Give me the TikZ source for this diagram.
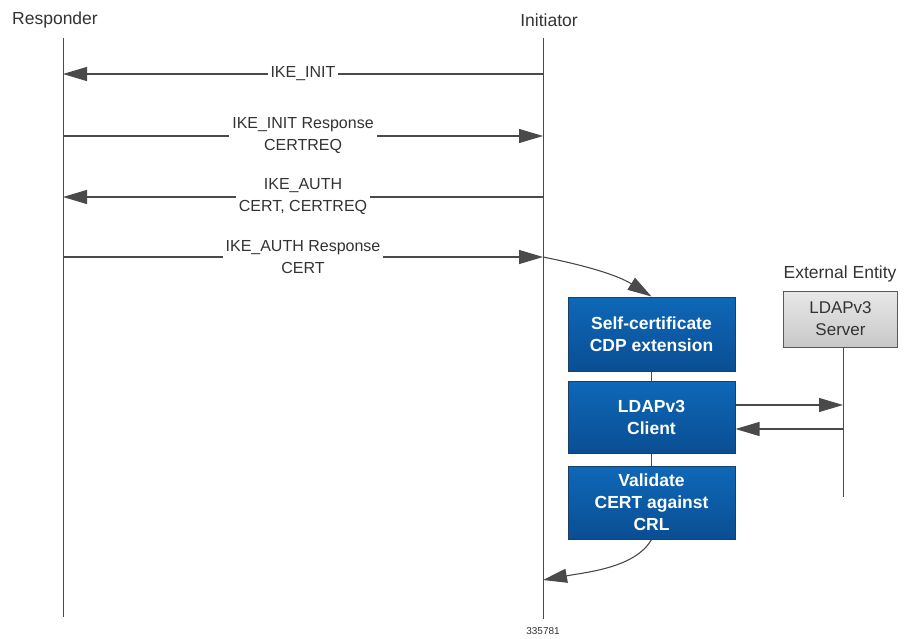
\documentclass[tikz,border=0pt]{standalone}
\usepackage{fontspec}
\setmainfont{Liberation Sans}
\usetikzlibrary{arrows.meta}
\definecolor{linegray}{HTML}{4A4A4A}
\definecolor{txtgray}{HTML}{333333}
\definecolor{boxtop}{HTML}{0E68B8}
\definecolor{boxbot}{HTML}{0A4E94}
\definecolor{boxedge}{HTML}{1A3F66}
\definecolor{srvtop}{HTML}{E8E8E8}
\definecolor{srvbot}{HTML}{C8C8C8}
\tikzset{
  life/.style={draw=linegray, line width=1pt},
  msg/.style={draw=linegray, line width=1.1pt, -{Triangle[length=24pt,width=14pt]}, color=linegray},
  lbl/.style={fill=white, text=txtgray, inner sep=3pt, align=center, font=\fontsize{16}{22}\selectfont},
  actor/.style={text=txtgray, font=\fontsize{17.5}{20}\selectfont},
  procbox/.style={draw=boxedge, line width=1pt, top color=boxtop, bottom color=boxbot,
    minimum width=167pt, minimum height=74pt, text=white, align=center, inner sep=0pt,
    font=\bfseries\fontsize{17.5}{22}\selectfont},
  srvbox/.style={draw=gray!70!black, line width=0.8pt, top color=srvtop, bottom color=srvbot,
    minimum width=114pt, minimum height=56pt, text=txtgray, align=center, inner sep=0pt,
    font=\fontsize{17}{22}\selectfont},
}
\begin{document}
\begin{tikzpicture}[x=1pt,y=-1pt]
\useasboundingbox (0,0) rectangle (904,639);
% actors
\node[actor] (resp) at (55,20) {Responder};
\node[actor] (init) at (549,20) {Initiator};
\coordinate (rtop) at (63,38);
\coordinate (rbot) at (63,617);
\coordinate (itop) at (543,38);
\coordinate (ibot) at (543,619);
\draw[life] (rtop) -- (rbot);
\draw[life] (itop) -- (ibot);
% message points
\coordinate (r1) at (63,74);  \coordinate (i1) at (543,74);
\coordinate (r2) at (63,136); \coordinate (i2) at (543,136);
\coordinate (r3) at (63,197); \coordinate (i3) at (543,197);
\coordinate (r4) at (63,257); \coordinate (i4) at (543,257);
\draw[msg] (i1) -- node[lbl] (m1) {IKE\_INIT} (r1);
\draw[msg] (r2) -- node[lbl] (m2) {IKE\_INIT Response\\CERTREQ} (i2);
\draw[msg] (i3) -- node[lbl] (m3) {IKE\_AUTH\\CERT, CERTREQ} (r3);
\draw[msg] (r4) -- node[lbl] (m4) {IKE\_AUTH Response\\CERT} (i4);
% process boxes
\node[procbox, minimum height=74pt] (b1) at (651.5,334) {Self-certificate\\CDP extension};
\node[procbox, minimum height=72pt] (b2) at (651.5,417) {LDAPv3\\Client};
\node[procbox, minimum height=73pt] (b3) at (651.5,502.5) {Validate\\CERT against\\CRL};
\draw[life] (b1.south) -- (b2.north);
\draw[life] (b2.south) -- (b3.north);
\draw[msg] (i4) .. controls +(40,8) and +(-35,-22) .. (b1.north);
\coordinate (iret) at (543,580);
\draw[msg] (b3.south) .. controls +(-16,28) and +(45,-8) .. (iret);
% external entity
\node[actor] (ext) at (840,274) {External Entity};
\node[srvbox] (srv) at (840.5,319) {LDAPv3\\Server};
\coordinate (sbot) at (843,497);
\draw[life] (srv.south -| sbot) -- (sbot);
\coordinate (s1) at (843,405);
\coordinate (s2) at (843,429);
\draw[msg] (b2.east |- s1) -- (s1);
\draw[msg] (s2) -- (b2.east |- s2);
% figure id
\node[text=txtgray, font=\fontsize{10}{12}\selectfont] (fid) at (543,631) {335781};
\end{tikzpicture}
\end{document}
